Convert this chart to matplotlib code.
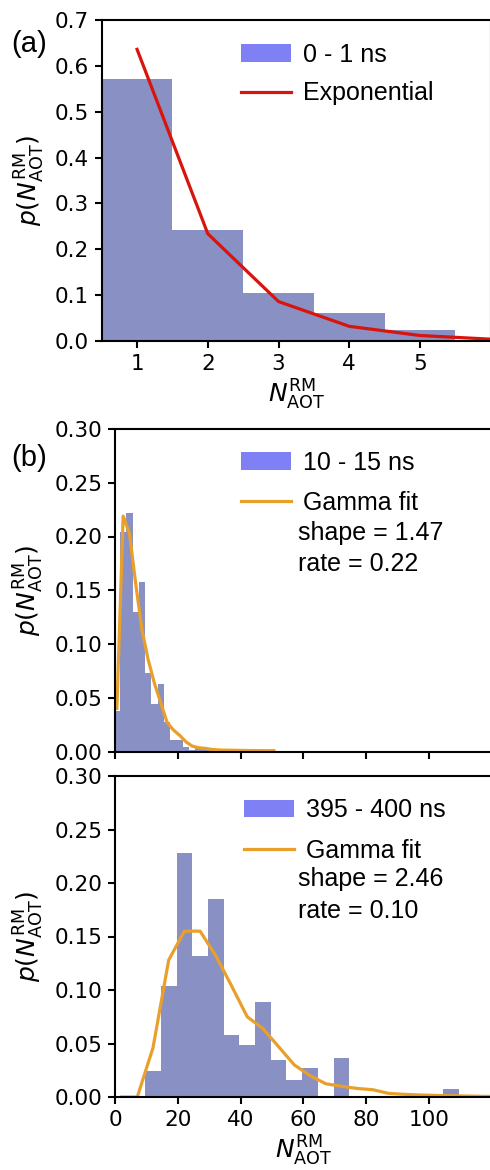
# histograms of N_AOT^RM at three time windows with fitted distributions
import matplotlib
matplotlib.use("Agg")
import matplotlib.pyplot as plt
from matplotlib.patches import Patch
from matplotlib.lines import Line2D

# panel (a): 0 - 1 ns, exponential fit
a_edges = [0.5, 1.5, 2.5, 3.5, 4.5, 5.5]
a_probs = [0.571, 0.243, 0.104, 0.061, 0.023]
a_fit_x = [1, 2, 3, 4, 5, 6]
a_fit_y = [0.636, 0.234, 0.086, 0.032, 0.012, 0.004]

# panel (b) top: 10 - 15 ns, gamma fit
b1_edges = [-0.4, 1.6, 3.6, 5.6, 7.6, 9.6, 11.6, 13.6, 15.6, 17.6, 19.6,
            21.6, 23.6, 25.6, 27.6, 29.6, 31.6]
b1_probs = [0.038, 0.204, 0.222, 0.130, 0.158, 0.073, 0.044, 0.063, 0.027,
            0.011, 0.011, 0.004, 0.001, 0.003, 0.003, 0.003]
b1_fit_x = [0.6, 2.6, 4.6, 6.6, 8.6, 10.6, 12.6, 14.6, 16.6, 18.6, 20.6,
            22.6, 24.6, 26.6, 28.6, 30.6, 32.6, 34.6, 38.6, 42.6, 46.6, 50.6]
b1_fit_y = [0.040, 0.219, 0.203, 0.156, 0.113, 0.085, 0.063, 0.045, 0.027,
            0.020, 0.015, 0.009, 0.005, 0.0035, 0.003, 0.002, 0.0015, 0.0013,
            0.0011, 0.0009, 0.0008, 0.0008]

# panel (b) bottom: 395 - 400 ns, gamma fit
b2_edges = [9.6, 14.6, 19.6, 24.6, 29.6, 34.6, 39.6, 44.6, 49.6, 54.6, 59.6,
            64.6, 69.6, 74.6, 79.6, 84.6, 89.6, 94.6, 99.6, 104.6, 109.6]
b2_probs = [0.0245, 0.1036, 0.228, 0.1315, 0.1855, 0.058, 0.0488, 0.0888,
            0.0348, 0.0155, 0.0273, 0.0, 0.0366, 0.0, 0.0, 0.0, 0.0, 0.0,
            0.0, 0.0078]
b2_fit_x = [2.1, 7.1, 12.1, 17.1, 22.1, 27.1, 32.1, 37.1, 42.1, 47.1, 52.1,
            57.1, 62.1, 67.1, 72.1, 77.1, 82.1, 87.1, 92.1, 97.1, 102.1,
            107.1, 112.1, 117.1, 122.1]
b2_fit_y = [0.0, 0.0, 0.046, 0.128, 0.155, 0.155, 0.132, 0.104, 0.075, 0.064,
            0.047, 0.030, 0.020, 0.0124, 0.010, 0.008, 0.0068, 0.0034, 0.0025,
            0.0019, 0.0015, 0.0012, 0.0009, 0.0006, 0.0005]

bar_color = '#8990c4'
patch_color = '#8080f5'
red = '#d8140c'
orange = '#e9a02b'
xlab = r'$N_{\mathrm{AOT}}^{\mathrm{RM}}$'
ylab = r'$p(N_{\mathrm{AOT}}^{\mathrm{RM}})$'
leg_font = {'family': 'Liberation Sans', 'size': 18}

W, H = 490, 1170
fig = plt.figure(figsize=(W / 100, H / 100), dpi=100)

ax_a = fig.add_axes([101.7 / W, 1 - 341 / H, 389 / W, 321 / H])
ax_b1 = fig.add_axes([115 / W, 1 - 751.5 / H, 376.8 / W, 322.5 / H])
ax_b2 = fig.add_axes([115 / W, 1 - 1097 / H, 376.8 / W, 321 / H])

for ax in (ax_a, ax_b1, ax_b2):
    ax.tick_params(labelsize=15.5, length=5, width=1.5, pad=4)
    for s in ax.spines.values():
        s.set_linewidth(1.5)

# (a)
ax_a.stairs(a_probs, a_edges, fill=True, color=bar_color)
ax_a.plot(a_fit_x, a_fit_y, color=red, lw=2.3)
ax_a.set_xlim(0.5, 6)
ax_a.set_ylim(0, 0.7)
ax_a.set_xticks([1, 2, 3, 4, 5])
ax_a.set_yticks([0.0, 0.1, 0.2, 0.3, 0.4, 0.5, 0.6, 0.7])
ax_a.set_xlabel(xlab, fontsize=18, labelpad=3)
ax_a.set_ylabel(ylab, fontsize=18, labelpad=6)
ax_a.legend([Patch(facecolor=patch_color), Line2D([], [], color=red, lw=2.3)],
            ['0 - 1 ns', 'Exponential'], prop=leg_font, frameon=False,
            loc='upper left', bbox_to_anchor=(0.358, 0.929), borderpad=0,
            borderaxespad=0, labelspacing=0.58, handletextpad=0.5)

# (b) top
ax_b1.stairs(b1_probs, b1_edges, fill=True, color=bar_color)
ax_b1.plot(b1_fit_x, b1_fit_y, color=orange, lw=2.3)
ax_b1.set_xlim(0, 120)
ax_b1.set_ylim(0, 0.3)
ax_b1.set_xticks([0, 20, 40, 60, 80, 100])
ax_b1.set_xticklabels([])
ax_b1.set_yticks([0.0, 0.05, 0.10, 0.15, 0.20, 0.25, 0.30])
ax_b1.set_yticklabels(['0.00', '0.05', '0.10', '0.15', '0.20', '0.25', '0.30'])
ax_b1.set_ylabel(ylab, fontsize=18, labelpad=6)
ax_b1.legend([Patch(facecolor=patch_color), Line2D([], [], color=orange, lw=2.3)],
             ['10 - 15 ns', 'Gamma fit'], prop=leg_font, frameon=False,
             loc='upper left', bbox_to_anchor=(0.334, 0.933), borderpad=0,
             borderaxespad=0, labelspacing=0.65, handletextpad=0.5)
ax_b1.text(0.486, 0.715, 'shape = 1.47\nrate = 0.22', transform=ax_b1.transAxes,
           fontdict=leg_font, va='top', ha='left', linespacing=1.38)

# (b) bottom
ax_b2.stairs(b2_probs, b2_edges, fill=True, color=bar_color)
ax_b2.plot(b2_fit_x, b2_fit_y, color=orange, lw=2.3)
ax_b2.set_xlim(0, 120)
ax_b2.set_ylim(0, 0.3)
ax_b2.set_xticks([0, 20, 40, 60, 80, 100])
ax_b2.set_yticks([0.0, 0.05, 0.10, 0.15, 0.20, 0.25, 0.30])
ax_b2.set_yticklabels(['0.00', '0.05', '0.10', '0.15', '0.20', '0.25', '0.30'])
ax_b2.set_xlabel(xlab, fontsize=18, labelpad=3)
ax_b2.set_ylabel(ylab, fontsize=18, labelpad=6)
ax_b2.legend([Patch(facecolor=patch_color), Line2D([], [], color=orange, lw=2.3)],
             ['395 - 400 ns', 'Gamma fit'], prop=leg_font, frameon=False,
             loc='upper left', bbox_to_anchor=(0.342, 0.930), borderpad=0,
             borderaxespad=0, labelspacing=0.65, handletextpad=0.5)
ax_b2.text(0.486, 0.715, 'shape = 2.46\nrate = 0.10', transform=ax_b2.transAxes,
           fontdict=leg_font, va='top', ha='left', linespacing=1.38)

fig.align_ylabels([ax_a, ax_b1, ax_b2])

fig.text(29.5 / W, 1 - 43.5 / H, '(a)', ha='center', va='center',
         family='Liberation Sans', fontsize=21)
fig.text(29.5 / W, 1 - 458.5 / H, '(b)', ha='center', va='center',
         family='Liberation Sans', fontsize=21)

fig.savefig('out.png', dpi=100)
